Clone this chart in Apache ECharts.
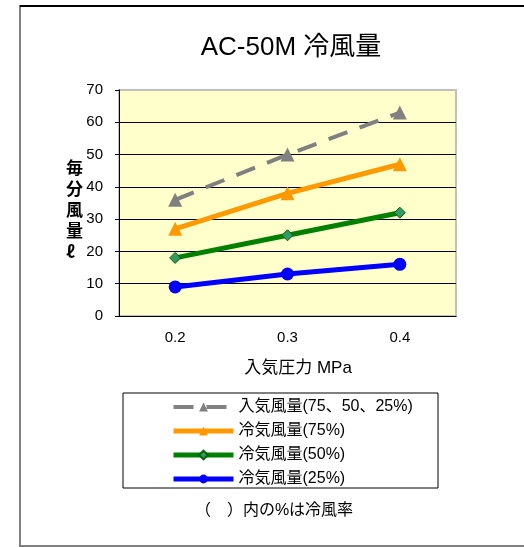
<!DOCTYPE html>
<html><head><meta charset="utf-8">
<script src="https://cdn.jsdelivr.net/npm/echarts@6/dist/echarts.min.js"></script>
<style>html,body{margin:0;padding:0;background:#fff}#c{width:524px;height:547px}</style>
</head><body><div id="c"></div>
<script>
const categories = ['0.2', '0.3', '0.4'];
const seriesNames = ['入気風量(75、50、25%)', '冷気風量(75%)', '冷気風量(50%)', '冷気風量(25%)'];
const inletAir = [36, 50, 63];
const cool75 = [27, 38, 47];
const cool50 = [18, 25, 32];
const cool25 = [9, 13, 16];
const yTicks = [0, 10, 20, 30, 40, 50, 60, 70];

const F = '"Liberation Sans", "Noto Sans CJK JP", sans-serif';
const chart = echarts.init(document.getElementById('c'));
chart.setOption({
  animation: false,
  textStyle: { fontFamily: F },
  title: {
    text: 'AC-50M 冷風量', left: 286, top: 30, textAlign: 'center',
    textStyle: { fontFamily: F, fontSize: 26, fontWeight: 'normal', color: '#000' }
  },
  grid: {
    left: 119, right: 68, top: 90, bottom: 231, show: true,
    backgroundColor: '#FFFFCC', borderColor: '#c0c0c0', borderWidth: 2
  },
  xAxis: {
    type: 'category', data: categories, boundaryGap: true,
    axisLine: { lineStyle: { color: '#000', width: 1 } },
    axisTick: { inside: true, length: 4, lineStyle: { color: '#000' } },
    axisLabel: { color: '#000', fontSize: 15, margin: 14, fontFamily: F }
  },
  yAxis: {
    type: 'value', min: yTicks[0], max: yTicks[yTicks.length - 1], interval: 10,
    axisLine: { show: true, lineStyle: { color: '#000', width: 1 } },
    axisTick: { show: true, length: 4, lineStyle: { color: '#000' } },
    axisLabel: { color: '#000', fontSize: 15, margin: 16, fontFamily: F },
    splitLine: { show: true, lineStyle: { color: ['#000','#000','#000','#000','#000','#000','#000','#c0c0c0'], width: 1 } }
  },
  legend: {
    orient: 'vertical', left: 166, top: 394, itemWidth: 60, itemHeight: 11, itemGap: 8,
    data: [
      { name: seriesNames[0], lineStyle: { width: 4 } },
      { name: seriesNames[1], lineStyle: { width: 5 } },
      { name: seriesNames[2], lineStyle: { width: 5 } },
      { name: seriesNames[3], lineStyle: { width: 5 } }
    ],
    textStyle: { fontFamily: F, fontSize: 16, lineHeight: 16, color: '#000' }
  },
  series: [
    { name: seriesNames[0], type: 'line', data: inletAir, symbol: 'triangle', symbolSize: 14,
      lineStyle: { color: '#808080', width: 4, type: [20, 13] },
      itemStyle: { color: '#808080' } },
    { name: seriesNames[1], type: 'line', data: cool75, symbol: 'triangle', symbolSize: 14,
      lineStyle: { color: '#FF9900', width: 5 },
      itemStyle: { color: '#FF9900' } },
    { name: seriesNames[2], type: 'line', data: cool50, symbol: 'diamond', symbolSize: 11,
      lineStyle: { color: '#008000', width: 5 },
      itemStyle: { color: '#339966', borderColor: '#006400', borderWidth: 1 } },
    { name: seriesNames[3], type: 'line', data: cool25, symbol: 'circle', symbolSize: 13,
      lineStyle: { color: '#0000FF', width: 5 },
      itemStyle: { color: '#0000FF' } }
  ],
  graphic: [
    { type: 'rect', shape: { x: 20, y: 6, width: 520, height: 540 },
      style: { fill: 'none', stroke: '#808080', lineWidth: 2 }, z: -1 },
    { type: 'line', shape: { x1: 20, y1: 6, x2: 524, y2: 6 },
      style: { stroke: '#000', lineWidth: 2 } },
    { type: 'rect', shape: { x: 123, y: 393, width: 315, height: 95 },
      style: { fill: 'none', stroke: '#000', lineWidth: 1 } },
    { type: 'text', left: 66, top: 157,
      style: { text: '毎\n分\n風\n量\nℓ', fontFamily: '"Noto Sans CJK JP", sans-serif', fontSize: 17, fontWeight: 'bold', lineHeight: 21, fill: '#000', align: 'center' } },
    { type: 'text', x: 298, y: 368,
      style: { text: '入気圧力 MPa', fontFamily: F, fontSize: 17, fill: '#000', align: 'center', verticalAlign: 'middle' } },
    { type: 'text', x: 274, y: 511,
      style: { text: '（　）内の%は冷風率', fontFamily: F, fontSize: 16, fill: '#000', align: 'center', verticalAlign: 'middle' } }
  ]
});
</script></body></html>
